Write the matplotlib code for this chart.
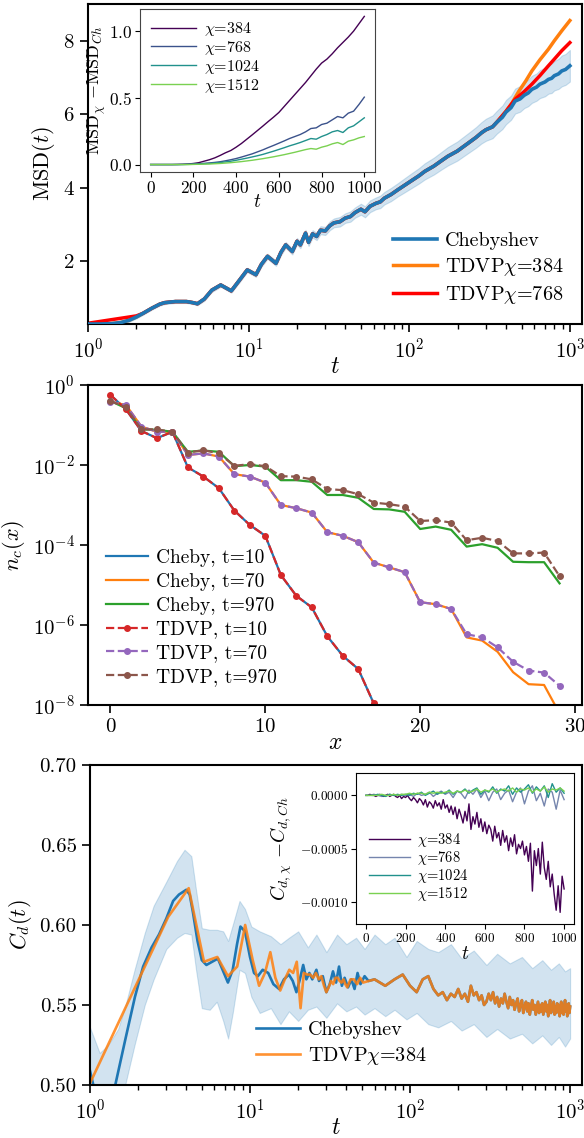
import numpy as np
import matplotlib
matplotlib.use("Agg")
import matplotlib.pyplot as plt

plt.rcParams['font.family'] = 'serif'
plt.rcParams['font.serif'] = ['cmr10']
plt.rcParams['mathtext.fontset'] = 'cm'
plt.rcParams['axes.formatter.use_mathtext'] = True
plt.rcParams['axes.unicode_minus'] = False

# ---------------- panel 1 : MSD(t) ----------------
msd_t = [1.0, 1.2, 1.4, 1.6, 1.8, 2.0, 2.2, 2.5, 2.8, 3.0, 3.5, 4.1, 4.5, 4.8, 5.3,
         5.9, 6.7, 7.8, 8.8, 9.8, 11.1, 12.0, 13.1, 14.8, 15.9, 17.0, 18.7, 20.0, 21.0, 22.6,
         23.6, 25.0, 26.5, 28, 30, 32, 34, 37, 40, 43, 46, 50, 53, 57, 62,
         66, 70, 77, 85, 92, 102, 115, 125, 142, 160, 174, 199, 230, 260, 282,
         300, 330, 350, 380, 400, 430, 456, 490, 520, 550, 580, 620, 650, 700, 735,
         770, 800, 850, 890, 940, 1000]
msd_cheb = [0.30, 0.30, 0.31, 0.34, 0.40, 0.49, 0.59, 0.73, 0.84, 0.88, 0.91, 0.91, 0.88, 0.85, 0.98,
            1.22, 1.36, 1.20, 1.50, 1.77, 1.64, 1.92, 2.14, 1.95, 2.25, 2.45, 2.27, 2.55, 2.45, 2.77,
            2.52, 2.75, 2.68, 2.85, 2.83, 2.97, 3.05, 3.08, 3.18, 3.22, 3.33, 3.42, 3.35, 3.50, 3.58,
            3.62, 3.72, 3.82, 3.95, 4.05, 4.18, 4.33, 4.45, 4.59, 4.75, 4.86, 5.00, 5.20, 5.37, 5.50,
            5.58, 5.66, 5.78, 5.92, 6.06, 6.18, 6.36, 6.42, 6.52, 6.58, 6.68, 6.74, 6.82, 6.88, 6.95,
            6.98, 7.05, 7.10, 7.18, 7.22, 7.32]
msd_err = [0.03, 0.03, 0.03, 0.03, 0.04, 0.04, 0.04, 0.04, 0.04, 0.04, 0.04, 0.04, 0.04, 0.04, 0.05,
           0.05, 0.05, 0.05, 0.06, 0.06, 0.06, 0.07, 0.07, 0.07, 0.08, 0.08, 0.08, 0.09, 0.09, 0.09,
           0.10, 0.10, 0.10, 0.11, 0.11, 0.12, 0.12, 0.13, 0.13, 0.14, 0.14, 0.15, 0.15, 0.16, 0.16,
           0.17, 0.17, 0.18, 0.18, 0.19, 0.20, 0.21, 0.22, 0.23, 0.24, 0.25, 0.26, 0.27, 0.28, 0.29,
           0.30, 0.31, 0.31, 0.32, 0.33, 0.33, 0.34, 0.35, 0.35, 0.36, 0.37, 0.37, 0.38, 0.39, 0.39,
           0.40, 0.40, 0.41, 0.42, 0.42, 0.43]

# TDVP parts that differ from Chebyshev
tdvp768_start_t = [1.0, 2.0]
tdvp768_start_v = [0.32, 0.52]
tdvp768_end_t = [350, 400, 456, 520, 580, 650, 735, 800, 890, 1000]
tdvp768_end_v = [5.78, 6.08, 6.41, 6.62, 6.82, 7.05, 7.32, 7.50, 7.73, 7.95]
tdvp384_end_t = [350, 400, 435, 480, 530, 580, 650, 735, 800, 890, 1000]
tdvp384_end_v = [5.78, 6.08, 6.30, 6.62, 6.90, 7.18, 7.48, 7.77, 8.00, 8.27, 8.55]

# inset: MSD_chi - MSD_Ch
ins_t = np.arange(0, 1001, 25)
dmsd_384 = [0, 0, 0, 0, 0, 0.001, 0.002, 0.004, 0.008, 0.014, 0.025, 0.036, 0.05, 0.068, 0.088,
            0.105, 0.13, 0.158, 0.19, 0.222, 0.255, 0.288, 0.322, 0.355, 0.39, 0.435, 0.48, 0.525,
            0.57, 0.615, 0.665, 0.715, 0.76, 0.79, 0.83, 0.875, 0.915, 0.955, 1.0, 1.055, 1.11]
dmsd_768 = [0, 0, 0, 0, 0, 0, 0.001, 0.002, 0.004, 0.006, 0.009, 0.012, 0.016, 0.021, 0.028,
            0.036, 0.045, 0.056, 0.068, 0.08, 0.095, 0.11, 0.127, 0.143, 0.16, 0.177, 0.195, 0.21,
            0.225, 0.245, 0.27, 0.275, 0.3, 0.31, 0.335, 0.36, 0.35, 0.385, 0.4, 0.45, 0.505]
dmsd_1024 = [0, 0, 0, 0, 0, 0, 0, 0.001, 0.002, 0.004, 0.006, 0.008, 0.011, 0.015, 0.02,
             0.025, 0.032, 0.04, 0.048, 0.057, 0.066, 0.076, 0.088, 0.1, 0.113, 0.126, 0.14, 0.152,
             0.165, 0.18, 0.195, 0.19, 0.21, 0.225, 0.245, 0.255, 0.24, 0.275, 0.29, 0.32, 0.35]
dmsd_1512 = [0, 0, 0, 0, 0, 0, 0, 0, 0.001, 0.002, 0.003, 0.004, 0.006, 0.008, 0.011,
             0.014, 0.018, 0.022, 0.027, 0.032, 0.038, 0.044, 0.051, 0.058, 0.066, 0.074, 0.083, 0.092,
             0.102, 0.112, 0.12, 0.115, 0.13, 0.14, 0.155, 0.165, 0.15, 0.175, 0.185, 0.2, 0.21]

# ---------------- panel 2 : n_c(x) ----------------
x_sites = np.arange(30)
log_cheb10 = [-0.25, -0.61, -1.15, -1.33, -1.17, -2.06, -2.29, -2.58, -3.14, -3.50, -3.77, -4.75,
              -5.27, -5.56, -6.28, -6.77, -7.10, -7.96, -8.90]
log_tdvp10 = log_cheb10
log_tdvp70 = [-0.42, -0.50, -1.04, -1.17, -1.17, -1.75, -1.71, -1.79, -2.23, -2.29, -2.44, -3.00,
              -3.08, -3.19, -3.68, -3.77, -3.93, -4.44, -4.56, -4.68, -5.43, -5.48, -5.60, -6.23,
              -6.31, -6.56, -6.92, -7.14, -7.19, -7.52]
log_cheb70 = log_tdvp70[:23] + [-6.31, -6.39, -6.67, -7.18, -7.48, -7.50, -8.21]
log_tdvp970 = [-0.40, -0.56, -1.11, -1.11, -1.17, -1.69, -1.63, -1.71, -2.02, -1.98, -2.03, -2.28,
               -2.29, -2.36, -2.60, -2.63, -2.73, -2.94, -2.98, -3.04, -3.40, -3.38, -3.44, -3.88,
               -3.82, -3.90, -4.21, -4.21, -4.19, -4.78]
log_cheb970 = [-0.40, -0.58, -1.11, -1.12, -1.17, -1.67, -1.64, -1.67, -2.03, -2.00, -2.04, -2.38,
               -2.38, -2.42, -2.75, -2.75, -2.82, -3.10, -3.11, -3.17, -3.60, -3.54, -3.62, -4.04,
               -3.98, -4.07, -4.42, -4.43, -4.43, -4.96]

# ---------------- panel 3 : C_d(t) ----------------
cd_cheb_t = [1.0, 1.05, 1.1, 1.2, 1.3, 1.44, 1.66, 1.91, 2.15, 2.43, 2.7, 3.0, 3.31, 3.6, 4.0,
             4.2, 4.4, 4.7, 5.0, 5.34, 5.8, 6.3, 6.8, 7.28, 7.8, 8.3, 8.72, 9.3, 10.0, 10.6,
             11.2, 12.0, 13.0, 14.0, 15.2, 16.3, 17.5, 18.5, 19.5, 20.5, 21.5, 22.5, 23.5, 24.5, 26,
             27, 28.5, 30, 31.5, 33, 34.5, 36, 37.5, 39, 41, 43, 45, 47, 49, 52, 55]
cd_cheb_v = [0.509, 0.500, 0.492, 0.484, 0.485, 0.500, 0.528, 0.555, 0.574, 0.586, 0.594, 0.604, 0.615, 0.619, 0.622,
             0.619, 0.608, 0.590, 0.578, 0.575, 0.577, 0.579, 0.571, 0.564, 0.572, 0.588, 0.599, 0.596, 0.580, 0.570,
             0.568, 0.572, 0.570, 0.563, 0.560, 0.566, 0.569, 0.565, 0.558, 0.566, 0.575, 0.566, 0.570, 0.566, 0.572,
             0.565, 0.568, 0.558, 0.563, 0.571, 0.564, 0.574, 0.562, 0.567, 0.561, 0.566, 0.560, 0.570, 0.563, 0.568, 0.565]
cd_tdvp_t = [1.0, 3.08, 4.14, 5.16, 6.25, 7.28, 8.32, 9.33, 10.4, 11.4, 12.4, 13.4, 14.4, 15.45, 16.5,
             17.6, 18.6, 19.6, 20.7, 21.7, 22.7, 23.8, 24.8, 25.8, 26.9, 27.9, 29.0, 30.0, 31.0, 32.1,
             33.1, 34.2, 35.2, 36.3, 37.3, 38.4, 39.4, 40.5, 42.5, 44.6, 46.7, 48.8, 50.9]
cd_tdvp_v = [0.501, 0.605, 0.623, 0.577, 0.580, 0.568, 0.574, 0.600, 0.578, 0.562, 0.570, 0.583, 0.567, 0.559, 0.566,
             0.572, 0.570, 0.577, 0.548, 0.570, 0.569, 0.569, 0.567, 0.570, 0.566, 0.568, 0.562, 0.558, 0.561, 0.565,
             0.563, 0.567, 0.567, 0.565, 0.564, 0.566, 0.563, 0.561, 0.566, 0.566, 0.563, 0.567, 0.564]
# late times: both methods coincide
cd_late_t = np.arange(60, 1001, 10)
cd_late_v = [0.566, 0.562, 0.566, 0.569, 0.562, 0.558, 0.566, 0.568, 0.560, 0.556,
             0.558, 0.553, 0.557, 0.555, 0.560, 0.554, 0.557, 0.552, 0.562, 0.556,
             0.558, 0.553, 0.556, 0.550, 0.552, 0.557, 0.553, 0.558, 0.551, 0.555,
             0.549, 0.554, 0.551, 0.557, 0.552, 0.548, 0.555, 0.550, 0.553, 0.547,
             0.551, 0.554, 0.546, 0.550, 0.553, 0.545, 0.549, 0.552, 0.546, 0.551,
             0.544, 0.549, 0.553, 0.547, 0.550, 0.544, 0.548, 0.552, 0.545, 0.550,
             0.546, 0.551, 0.544, 0.548, 0.552, 0.546, 0.550, 0.543, 0.549, 0.553,
             0.545, 0.550, 0.547, 0.552, 0.544, 0.549, 0.545, 0.551, 0.546, 0.550,
             0.543, 0.548, 0.552, 0.545, 0.550, 0.544, 0.549, 0.553, 0.546, 0.550,
             0.543, 0.548, 0.551, 0.545, 0.549]
cd_band_t = [1.0, 1.15, 1.3, 1.5, 1.66, 1.9, 2.2, 2.5, 3.0, 3.5, 3.9, 4.3, 4.6, 5.0, 5.6,
             6.2, 6.8, 7.3, 7.8, 8.6, 9.3, 10.2, 11.5, 13.5, 15.5, 17.5, 20, 23, 26, 30,
             35, 40, 46, 52, 60, 70, 80, 95, 110, 130, 150, 180, 210, 250, 300,
             350, 420, 500, 580, 670, 760, 850, 930, 1000]
cd_band_hi = [0.536, 0.520, 0.525, 0.535, 0.549, 0.572, 0.595, 0.612, 0.627, 0.640, 0.647, 0.643, 0.622, 0.598, 0.597,
              0.597, 0.596, 0.590, 0.600, 0.615, 0.610, 0.599, 0.596, 0.593, 0.588, 0.592, 0.596, 0.586, 0.594, 0.583,
              0.594, 0.588, 0.592, 0.585, 0.594, 0.588, 0.592, 0.580, 0.590, 0.585, 0.583, 0.588, 0.579, 0.584, 0.575,
              0.582, 0.576, 0.580, 0.573, 0.578, 0.572, 0.576, 0.571, 0.573]
cd_band_lo = [0.480, 0.460, 0.460, 0.478, 0.500, 0.525, 0.550, 0.566, 0.585, 0.592, 0.595, 0.594, 0.572, 0.548, 0.547,
              0.552, 0.540, 0.529, 0.545, 0.572, 0.570, 0.555, 0.545, 0.548, 0.538, 0.546, 0.540, 0.547, 0.549, 0.542,
              0.551, 0.546, 0.549, 0.544, 0.548, 0.543, 0.547, 0.541, 0.545, 0.538, 0.536, 0.540, 0.534, 0.538, 0.530,
              0.535, 0.529, 0.532, 0.526, 0.531, 0.525, 0.530, 0.524, 0.529]

# inset: C_d,chi - C_d,Ch  (units of 1e-4)
dcd_t384 = np.arange(0, 1001, 10)
dcd_384 = [0, 0, 0.1, 0, 0, -0.1, 0, 0.1, 0, -0.1,
           0, 0.1, -0.1, 0, 0.1, -0.1, -0.2, 0, -0.3, -0.1,
           -0.2, 0, -0.3, -0.5, -0.2, -0.4, -0.7, -0.3, -0.5, -0.9,
           -0.4, -1.1, -0.6, -0.8, -1.2, -0.5, -1.0, -0.7, -1.3, -0.4,
           -1.2, -0.9, -1.6, -1.0, -1.8, -1.1, -2.2, -1.3, -1.9, -2.6,
           -1.5, -2.4, -0.8, -3.2, -2.0, -2.7, -1.6, -3.0, -2.2, -3.4,
           -2.5, -3.6, -2.8, -3.2, -4.3, -2.9, -4.0, -3.5, -4.7, -3.3,
           -4.4, -3.8, -5.2, -4.0, -4.8, -3.7, -5.5, -4.6, -5.0, -4.3,
           -5.6, -4.8, -6.2, -4.5, -9.0, -5.2, -6.6, -5.0, -7.4, -4.4,
           -6.8, -7.9, -6.2, -8.6, -7.4, -9.3, -10.8, -8.5, -11.0, -7.6,
           -8.8]
dcd_t = np.arange(0, 1001, 20)
dcd_768 = [0, 0, 0.1, 0, -0.1, 0, 0.1, 0, 0, 0.1,
           0, 0.1, -0.1, 0.2, 0, 0.1, 0.3, -0.1, 0.2, 0.4,
           0.1, 0.3, -0.2, 0.4, 0.2, -0.3, 0.5, 0.1, 0.6, -0.2,
           0.4, -0.5, 0.3, 0.6, -0.4, 0.2, 0.5, -0.6, 0.3, 0.7,
           -0.8, 0.4, 0.9, -0.5, 0.2, -1.0, 0.6, 0.3, -1.3, 0.5,
           -0.4]
dcd_1024 = [0, 0, 0, 0.1, 0, -0.1, 0.1, 0, 0.1, 0,
            0.1, 0, 0.2, 0.1, 0.3, 0, 0.2, 0.4, 0.1, 0.3,
            0.2, 0.5, 0.1, 0.4, 0.3, 0.6, 0.2, 0.5, 0.7, 0.1,
            0.5, 0.3, 0.8, 0.2, 0.6, 0.4, 0.9, 0.1, 0.7, 0.3,
            0.6, 1.0, 0.2, 0.8, 0.4, 0.9, -0.2, 1.1, 0.3, 0.7,
            0.2]
dcd_1512 = [0, 0, 0, 0, 0.1, 0, 0, 0.1, 0, 0.1,
            0.1, 0.2, 0.1, 0.2, 0.2, 0.1, 0.3, 0.2, 0.3, 0.2,
            0.3, 0.4, 0.2, 0.4, 0.3, 0.5, 0.3, 0.4, 0.6, 0.3,
            0.5, 0.4, 0.6, 0.3, 0.5, 0.6, 0.4, 0.7, 0.3, 0.6,
            0.5, 0.7, 0.3, 0.6, 0.4, 0.8, 0.3, 0.6, 0.5, 0.7,
            0.4]

chis = ['384', '768', '1024', '1512']
vir = ['#440154', '#3b528b', '#21918c', '#7ad151']

fig = plt.figure(figsize=(5.84, 11.38), dpi=100)

# ---------- panel 1 ----------
ax1 = fig.add_axes([0.1507, 0.7153, 0.8459, 0.2812])
msd_t_a = np.array(msd_t)
msd_v_a = np.array(msd_cheb)
msd_e_a = np.array(msd_err)
ax1.fill_between(msd_t_a, msd_v_a - msd_e_a, msd_v_a + msd_e_a, color='C0', alpha=0.2, lw=0.8)
mid = (msd_t_a >= 2.2) & (msd_t_a <= 330)
t384 = np.concatenate([msd_t_a[msd_t_a <= 330], tdvp384_end_t])
v384 = np.concatenate([msd_v_a[msd_t_a <= 330], tdvp384_end_v])
t768 = np.concatenate([tdvp768_start_t, msd_t_a[mid], tdvp768_end_t])
v768 = np.concatenate([tdvp768_start_v, msd_v_a[mid], tdvp768_end_v])
l_o, = ax1.plot(t384, v384, color='C1', lw=2.5, zorder=2, label=r'TDVP$\chi$=384')
l_r, = ax1.plot(t768, v768, color='red', lw=2.5, zorder=2.5, label=r'TDVP$\chi$=768')
l_b, = ax1.plot(msd_t_a, msd_v_a, color='C0', lw=2.6, zorder=3, label='Chebyshev')
ax1.set_xscale('log')
ax1.set_xlim(1, 1190)
ax1.set_ylim(0.3, 9.0)
ax1.set_yticks([2, 4, 6, 8])
ax1.set_xlabel('$t$', fontsize=17, labelpad=-4)
ax1.set_ylabel(r'$\mathrm{MSD}(t)$', fontsize=16)
ax1.legend(handles=[l_b, l_o, l_r], loc='lower right', frameon=False, fontsize=14.5,
           handlelength=2.2, handletextpad=0.4, labelspacing=0.3)

in1 = fig.add_axes([0.2397, 0.8489, 0.4024, 0.1432])
for lab, col, d in zip(chis, vir, [dmsd_384, dmsd_768, dmsd_1024, dmsd_1512]):
    in1.plot(ins_t, d, color=col, lw=1.0, label=r'$\chi$=' + lab)
in1.set_xticks([0, 200, 400, 600, 800, 1000])
in1.set_yticks([0.0, 0.5, 1.0])
in1.set_xlabel('$t$', fontsize=14, labelpad=-2)
in1.set_ylabel(r'$\mathrm{MSD}_\chi$ $-\mathrm{MSD}_{Ch}$', fontsize=13, labelpad=1)
in1.tick_params(labelsize=12.5, pad=2)
in1.legend(loc='upper left', frameon=False, fontsize=11.5, handlelength=2.8,
           labelspacing=0.05, handletextpad=0.5, borderaxespad=0.3)
for s in in1.spines.values():
    s.set_color('#444444')

# ---------- panel 2 ----------
ax2 = fig.add_axes([0.1507, 0.3805, 0.8459, 0.2812])
ax2.plot(x_sites[:len(log_cheb10)], 10.0 ** np.array(log_cheb10), color='C0', lw=1.6, label='Cheby, t=10')
ax2.plot(x_sites, 10.0 ** np.array(log_cheb70), color='C1', lw=1.6, label='Cheby, t=70')
ax2.plot(x_sites, 10.0 ** np.array(log_cheb970), color='C2', lw=1.6, label='Cheby, t=970')
ax2.plot(x_sites[:len(log_tdvp10)], 10.0 ** np.array(log_tdvp10), '--o', color='C3', lw=1.6, ms=4,
         label='TDVP, t=10')
ax2.plot(x_sites, 10.0 ** np.array(log_tdvp70), '--o', color='C4', lw=1.6, ms=4, label='TDVP, t=70')
ax2.plot(x_sites, 10.0 ** np.array(log_tdvp970), '--o', color='C5', lw=1.6, ms=4, label='TDVP, t=970')
ax2.set_yscale('log')
ax2.set_ylim(1e-8, 1)
ax2.set_xlim(-1.45, 30.45)
ax2.set_yticks([1e0, 1e-2, 1e-4, 1e-6, 1e-8])
ax2.yaxis.set_minor_locator(matplotlib.ticker.NullLocator())
ax2.set_xticks([0, 10, 20, 30])
ax2.set_xlabel('$x$', fontsize=17, labelpad=-3)
ax2.set_ylabel('$n_c(x)$', fontsize=16)
ax2.legend(loc='lower left', bbox_to_anchor=(0.0, 0.005), frameon=False, fontsize=14,
           handlelength=2.2, handletextpad=0.4, labelspacing=0.3)

# ---------- panel 3 ----------
ax3 = fig.add_axes([0.154, 0.0466, 0.8425, 0.2812])
ax3.fill_between(cd_band_t, cd_band_lo, cd_band_hi, color='C0', alpha=0.2, lw=0.8)
cb_t = np.concatenate([cd_cheb_t, cd_late_t])
cb_v = np.concatenate([cd_cheb_v, cd_late_v])
ct_t = np.concatenate([cd_tdvp_t, cd_late_t])
ct_v = np.concatenate([cd_tdvp_v, cd_late_v])
ax3.plot(cb_t, cb_v, color='C0', lw=1.9, label='Chebyshev')
ax3.plot(ct_t, ct_v, color='C1', lw=1.9, alpha=0.85, label=r'TDVP$\chi$=384')
ax3.set_xscale('log')
ax3.set_xlim(1, 1186)
ax3.set_ylim(0.5, 0.7)
ax3.set_yticks([0.50, 0.55, 0.60, 0.65, 0.70])
ax3.set_yticklabels(['0.50', '0.55', '0.60', '0.65', '0.70'])
ax3.set_xlabel('$t$', fontsize=17, labelpad=-4)
ax3.set_ylabel('$C_d(t)$', fontsize=16)
ax3.legend(loc='lower left', bbox_to_anchor=(0.3, 0.0), frameon=False, fontsize=14.5,
           handlelength=2.2, handletextpad=0.4, labelspacing=0.3)

in3 = fig.add_axes([0.6096, 0.1880, 0.3733, 0.1327])
in3.plot(dcd_t384, np.array(dcd_384) * 1e-4, color=vir[0], lw=1.0, label=r'$\chi$=384')
in3.plot(dcd_t, np.array(dcd_768) * 1e-4, color=vir[1], lw=1.0, alpha=0.7, label=r'$\chi$=768')
in3.plot(dcd_t, np.array(dcd_1024) * 1e-4, color=vir[2], lw=1.0, label=r'$\chi$=1024')
in3.plot(dcd_t, np.array(dcd_1512) * 1e-4, color=vir[3], lw=1.0, label=r'$\chi$=1512')
in3.set_ylim(-0.00121, 0.00021)
in3.set_xticks([0, 200, 400, 600, 800, 1000])
in3.set_yticks([-0.001, -0.0005, 0.0])
in3.set_yticklabels([r'$-0.0010$', r'$-0.0005$', r'$0.0000$'])
in3.tick_params(labelsize=9.5, pad=2)
in3.set_xlabel('$t$', fontsize=14, labelpad=0)
in3.set_ylabel(r'$C_{d,\chi}$ $-C_{d,Ch}$', fontsize=14, labelpad=4)
in3.legend(loc='lower left', bbox_to_anchor=(0.0, 0.05), frameon=False, fontsize=10.5,
           handlelength=2.8, labelspacing=0.0, handletextpad=0.5)

for ax in (ax1, ax2, ax3):
    ax.tick_params(labelsize=15, length=6, width=1.2)
    ax.tick_params(which='minor', length=3.5, width=1.0)
    for s in ax.spines.values():
        s.set_linewidth(1.5)

fig.savefig('out.png', dpi=100)
